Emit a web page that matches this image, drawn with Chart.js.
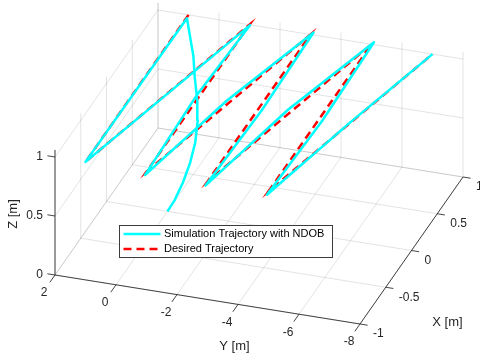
<!DOCTYPE html>
<html>
<head>
<meta charset="utf-8">
<script src="https://cdn.jsdelivr.net/npm/chart.js@4.4.1/dist/chart.umd.min.js"></script>
<style>
  html, body { margin: 0; padding: 0; background: #ffffff; }
  #wrap { width: 480px; height: 360px; }
</style>
</head>
<body>
<div id="wrap"><canvas id="c" width="480" height="360"></canvas></div>
<script>
// ---------- data ----------
const xLim = [-1, 1];
const yLim = [-8, 2];
const zLim = [0, 1.06];

const xTicks = [-1, -0.5, 0, 0.5, 1];
const yTicks = [2, 0, -2, -4, -6, -8];
const zTicks = [0, 0.5, 1];
const xTickLabels = ['-1', '-0.5', '0', '0.5', '1'];
const yTickLabels = ['2', '0', '-2', '-4', '-6', '-8'];
const zTickLabels = ['0', '0.5', '1'];

// Desired trajectory (zig-zag at 1 m height)
const desiredX = [1, -1, 1, -1, 1, -1, 1, -1, 1];
const desiredY = [1, 1, -1, -1, -3, -3, -5, -5, -7];
const desiredZ = [1, 1, 1, 1, 1, 1, 1, 1, 1];

// Simulation trajectory with NDOB (take-off from origin, then tracking)
const simX = [0, 0.05, 0.12, 0.23, 0.33, 0.41, 0.46, 0.53, 0.68, 0.82, 0.97,
              -1.0, 1.01, 0.0, -1.03, 0.0, 1.03, 0.0, -1.04, 0.0, 1.03, 0.0, -1.03, 0.0, 1.0];
const simY = [0, -0.15, -0.3, -0.35, -0.35, -0.3, -0.2, 0.0, 0.3, 0.65, 1.0,
              1.0, -1.0, -0.95, -1.0, -1.95, -3.05, -3.08, -3.0, -3.95, -5.03, -5.08, -5.0, -6.0, -7.0];
const simZ = [0, 0.07, 0.18, 0.28, 0.39, 0.53, 0.66, 0.80, 0.88, 0.95, 0.99,
              1.0, 0.99, 1.02, 0.99, 1.02, 1.0, 0.98, 0.99, 1.025, 1.0, 0.98, 0.99, 1.005, 1.0];

const legendLabels = ['Simulation Trajectory with NDOB', 'Desired Trajectory'];
const axisTitles = { x: 'X [m]', y: 'Y [m]', z: 'Z [m]' };

// ---------- camera (orthographic view of the 3-D box) ----------
const view = {
  origin: [55, 275],          // screen position of (xLim[0], yLim[1], zLim[0])
  ex: [51.5, -73.5],          // per +1 in X
  ey: [-30.5, -4.9],          // per +1 in Y
  ez: [0, -118]               // per +1 in Z
};
function proj(x, y, z) {
  const dx = x - xLim[0], dy = y - yLim[1], dz = z - zLim[0];
  return {
    x: view.origin[0] + dx * view.ex[0] + dy * view.ey[0] + dz * view.ez[0],
    y: view.origin[1] + dx * view.ex[1] + dy * view.ey[1] + dz * view.ez[1]
  };
}

const GRID = 'rgba(38,38,38,0.13)';
const AXIS = 'rgba(38,38,38,0.85)';
const TXT = '#262626';
const FONT = '"Liberation Sans", Arial, Helvetica, sans-serif';

const datasets = [];
function seg(a, b, color, width, order) {
  datasets.push({
    data: [proj(a[0], a[1], a[2]), proj(b[0], b[1], b[2])],
    showLine: true, borderColor: color, borderWidth: width,
    pointRadius: 0, pointHoverRadius: 0, order: order, clip: false, fill: false
  });
}

// floor grid (Z = zmin)
yTicks.forEach(v => seg([xLim[0], v, zLim[0]], [xLim[1], v, zLim[0]], GRID, 1, 20));
xTicks.forEach(v => seg([v, yLim[0], zLim[0]], [v, yLim[1], zLim[0]], GRID, 1, 20));
// back wall (X = xmax)
yTicks.forEach(v => seg([xLim[1], v, zLim[0]], [xLim[1], v, zLim[1]], GRID, 1, 20));
zTicks.forEach(v => seg([xLim[1], yLim[0], v], [xLim[1], yLim[1], v], GRID, 1, 20));
// side wall (Y = ymax)
xTicks.forEach(v => seg([v, yLim[1], zLim[0]], [v, yLim[1], zLim[1]], GRID, 1, 20));
zTicks.forEach(v => seg([xLim[0], yLim[1], v], [xLim[1], yLim[1], v], GRID, 1, 20));

// axis lines
seg([xLim[0], yLim[1], zLim[0]], [xLim[0], yLim[0], zLim[0]], AXIS, 1, 15); // Y axis
seg([xLim[0], yLim[0], zLim[0]], [xLim[1], yLim[0], zLim[0]], AXIS, 1, 15); // X axis
seg([xLim[0], yLim[1], zLim[0]], [xLim[0], yLim[1], zLim[1]], AXIS, 1, 15); // Z axis
// tick marks
zTicks.forEach(v => seg([xLim[0], yLim[1], v], [xLim[0], yLim[1] + 0.25, v], AXIS, 1, 15));
xTicks.forEach(v => seg([v, yLim[0], zLim[0]], [v, yLim[0] - 0.25, zLim[0]], AXIS, 1, 15));
yTicks.forEach(v => seg([xLim[0], v, zLim[0]], [xLim[0] - 0.1, v, zLim[0]], AXIS, 1, 15));

// trajectories
const simStyle = { color: '#00ffff', width: 2.5 };
const desStyle = { color: '#ff0000', width: 2.5, dash: [8, 5] };
datasets.push({
  label: legendLabels[1],
  data: desiredX.map((x, i) => proj(x, desiredY[i], desiredZ[i])),
  showLine: true, borderColor: desStyle.color, borderWidth: desStyle.width,
  borderDash: desStyle.dash, pointRadius: 0, order: 2, clip: false, fill: false, tension: 0
});
datasets.push({
  label: legendLabels[0],
  data: simX.map((x, i) => proj(x, simY[i], simZ[i])),
  showLine: true, borderColor: simStyle.color, borderWidth: simStyle.width,
  pointRadius: 0, order: 1, clip: false, fill: false, tension: 0,
  borderJoinStyle: 'round'
});

const bgPlugin = {
  id: 'bg',
  beforeDraw(chart) {
    const c = chart.ctx;
    c.save(); c.fillStyle = '#ffffff'; c.fillRect(0, 0, chart.width, chart.height); c.restore();
  }
};

const textPlugin = {
  id: 'text3d',
  afterDatasetsDraw(chart) {
    const c = chart.ctx;
    const sx = chart.scales.x, sy = chart.scales.y;
    const P = (x, y, z) => { const p = proj(x, y, z); return [sx.getPixelForValue(p.x), sy.getPixelForValue(p.y)]; };
    c.save();
    c.fillStyle = TXT;
    c.font = '12px ' + FONT;
    c.textBaseline = 'middle';
    // Z tick labels
    c.textAlign = 'right';
    zTicks.forEach((v, i) => { const p = P(xLim[0], yLim[1], v); c.fillText(zTickLabels[i], p[0] - 12, p[1]); });
    // Y tick labels
    c.textAlign = 'center';
    yTicks.forEach((v, i) => { const p = P(xLim[0], v, zLim[0]); c.fillText(yTickLabels[i], p[0] - 11, p[1] + 18); });
    // X tick labels
    c.textAlign = 'left';
    xTicks.forEach((v, i) => { const p = P(v, yLim[0], zLim[0]); c.fillText(xTickLabels[i], p[0] + 13, p[1] + 10); });

    // axis titles
    c.font = '13px ' + FONT;
    c.textAlign = 'center';
    const py = P(xLim[0], (yLim[0] + yLim[1]) / 2, zLim[0]);
    c.fillText(axisTitles.y, py[0] + 27, py[1] + 47);
    const px = P(0, yLim[0], zLim[0]);
    c.fillText(axisTitles.x, px[0] + 36, px[1] + 72);
    const pz = P(xLim[0], yLim[1], 0.5);
    c.save();
    c.translate(pz[0] - 42, pz[1] - 2);
    c.rotate(-Math.PI / 2);
    c.fillText(axisTitles.z, 0, 0);
    c.restore();

    // legend
    const L = { x: 119.5, y: 225.5, w: 213, h: 32 };
    c.fillStyle = '#ffffff';
    c.fillRect(L.x, L.y, L.w, L.h);
    c.strokeStyle = 'rgba(38,38,38,0.9)';
    c.lineWidth = 1;
    c.strokeRect(L.x, L.y, L.w, L.h);
    const rows = [
      { y: L.y + 8.5, style: simStyle, text: legendLabels[0] },
      { y: L.y + 23.5, style: desStyle, text: legendLabels[1] }
    ];
    rows.forEach(r => {
      c.beginPath();
      c.strokeStyle = r.style.color;
      c.lineWidth = r.style.width;
      c.setLineDash(r.style.dash || []);
      c.moveTo(L.x + 4, r.y);
      c.lineTo(L.x + 41, r.y);
      c.stroke();
      c.setLineDash([]);
      c.fillStyle = '#000000';
      c.font = '11px ' + FONT;
      c.textAlign = 'left';
      c.fillText(r.text, L.x + 44.5, r.y);
    });
    c.restore();
  }
};

new Chart(document.getElementById('c'), {
  type: 'scatter',
  data: { datasets: datasets },
  options: {
    responsive: false,
    animation: false,
    devicePixelRatio: 1,
    layout: { padding: 0 },
    events: [],
    plugins: { legend: { display: false }, tooltip: { enabled: false } },
    scales: {
      x: { type: 'linear', min: 0, max: 480, display: false },
      y: { type: 'linear', min: 0, max: 360, reverse: true, display: false }
    }
  },
  plugins: [bgPlugin, textPlugin]
});
</script>
</body>
</html>
